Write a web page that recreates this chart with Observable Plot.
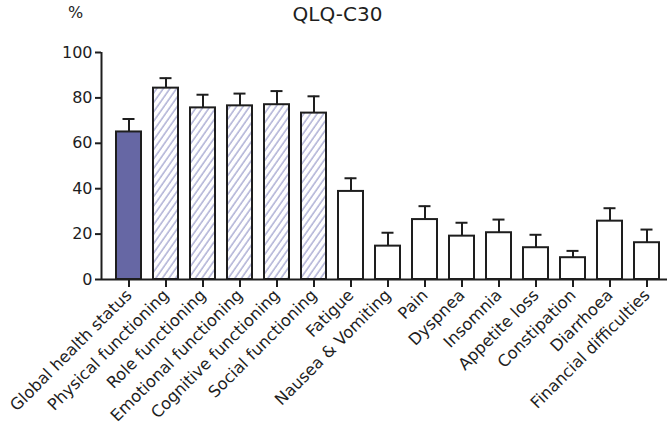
<!DOCTYPE html>
<html>
<head>
<meta charset="utf-8">
<script src="https://cdn.jsdelivr.net/npm/d3@7"></script>
<script src="https://cdn.jsdelivr.net/npm/@observablehq/plot@0.6"></script>
<style>
  html, body { margin: 0; padding: 0; background: #fff; }
</style>
</head>
<body>
<div id="chart"></div>
<script>
const categories = [
  "Global health status", "Physical functioning", "Role functioning",
  "Emotional functioning", "Cognitive functioning", "Social functioning",
  "Fatigue", "Nausea & Vomiting", "Pain", "Dyspnea", "Insomnia",
  "Appetite loss", "Constipation", "Diarrhoea", "Financial difficulties"
];
const means = [65, 84.3, 75.6, 76.5, 77, 73.3, 38.8, 14.7, 26.4, 19.1, 20.6, 14, 9.6, 25.7, 16.2];
const errors = [5.7, 4.4, 5.8, 5.4, 6, 7.4, 5.8, 5.9, 5.9, 5.9, 5.8, 5.7, 3, 5.7, 5.8];
const groups = ["global", "functional", "functional", "functional", "functional", "functional",
  "symptom", "symptom", "symptom", "symptom", "symptom", "symptom", "symptom", "symptom", "symptom"];
const yTicks = [0, 20, 40, 60, 80, 100];
const title = "QLQ-C30";
const unit = "%";

const groupFill = {global: "#6667a4", functional: "url(#hatch)", symptom: "#ffffff"};
const rows = categories.map((c, i) => ({cat: c, mean: means[i], top: means[i] + errors[i], group: groups[i]}));

const W = 670, H = 432, ML = 101, MR = 3, MT = 52, MB = 153;
const ink = "#1e1e1e";

const plot = Plot.plot({
  width: W, height: H,
  marginLeft: ML, marginRight: MR, marginTop: MT, marginBottom: MB,
  style: {fontFamily: "'DejaVu Sans', sans-serif", color: ink, background: "#fff"},
  x: {domain: categories, range: [101, 675], paddingInner: 0.32, paddingOuter: 0.23, label: null},
  y: {domain: [0, 100], label: null},
  marks: [
    Plot.ruleX(rows, {x: "cat", y1: "mean", y2: "top", stroke: ink, strokeWidth: 2}),
    Plot.tickY(rows, {x: "cat", y: "top", stroke: ink, strokeWidth: 2, insetLeft: 6.5, insetRight: 6.5}),
    Plot.barY(rows, {x: "cat", y: "mean", fill: d => groupFill[d.group], stroke: ink, strokeWidth: 2}),
    Plot.ruleY([0], {stroke: ink, strokeWidth: 2}),
    Plot.ruleX([0], {x: null, stroke: ink, strokeWidth: 2, dx: -(W - ML - MR) / 2}),
    Plot.axisY({ticks: yTicks, tickSize: 6, tickPadding: 3, fontSize: 16, stroke: ink, strokeWidth: 2, label: null}),
    Plot.axisX({tickRotate: -45, tickSize: 8, tickPadding: 5, fontSize: 16.3, stroke: ink, strokeWidth: 2, label: null}),
    Plot.text([title], {text: d => d, frameAnchor: "top-left", lineAnchor: "middle", dx: 337 - ML, dy: 14 - MT, fontSize: 20, textAnchor: "middle", fill: ink}),
    Plot.text([unit], {text: d => d, frameAnchor: "top-left", lineAnchor: "middle", dx: 75 - ML, dy: 12 - MT, fontSize: 16, textAnchor: "middle", fill: ink})
  ]
});

const svg = d3.select(plot);
const defs = svg.insert("defs", ":first-child");
const pat = defs.append("pattern")
  .attr("id", "hatch")
  .attr("patternUnits", "userSpaceOnUse")
  .attr("width", 5.4).attr("height", 5.4)
  .attr("patternTransform", "rotate(35)");
pat.append("rect").attr("width", 5.4).attr("height", 5.4).attr("fill", "#ffffff");
pat.append("line").attr("x1", 1).attr("y1", 0).attr("x2", 1).attr("y2", 5.4)
  .attr("stroke", "#a9abd2").attr("stroke-width", 1.4);

document.getElementById("chart").appendChild(plot);
</script>
</body>
</html>
